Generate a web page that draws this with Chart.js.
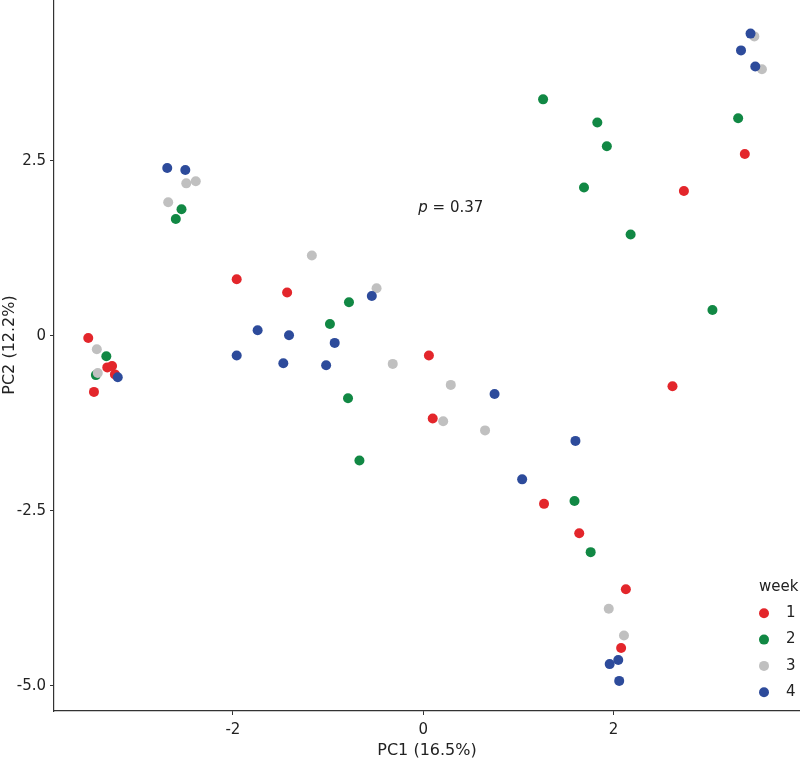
<!DOCTYPE html>
<html>
<head>
<meta charset="utf-8">
<script src="https://cdn.jsdelivr.net/npm/chart.js@4"></script>
<style>
  html, body { margin: 0; padding: 0; background: #fff; }
  #wrap { width: 800px; height: 767px; position: relative; }
</style>
</head>
<body>
<div id="wrap"><canvas id="pca"></canvas></div>
<script>
// PCA scores per week: [PC1, PC2]
const weeks = ['1', '2', '3', '4']
const weekColors = ['#e3262b', '#118844', '#c0c0c0', '#2d4b9b']

const week1 = [
  [-3.52, -0.03], [-3.32, -0.45], [-3.27, -0.43], [-3.24, -0.55], [-3.46, -0.80],
  [-1.96, 0.81], [-1.43, 0.62], [0.06, -0.28], [0.10, -1.18], [1.27, -2.40],
  [1.64, -2.82], [2.13, -3.62], [2.08, -4.46], [2.74, 2.07], [3.38, 2.60], [2.62, -0.72]
]
const week2 = [
  [-3.33, -0.29], [-3.44, -0.56], [-2.54, 1.81], [-2.60, 1.67], [-0.78, 0.48],
  [-0.98, 0.17], [-0.79, -0.89], [-0.67, -1.78], [1.26, 3.38], [1.83, 3.05],
  [1.93, 2.71], [1.69, 2.12], [2.18, 1.45], [3.31, 3.11], [3.04, 0.37],
  [1.59, -2.36], [1.76, -3.09]
]
const week3 = [
  [-3.43, -0.19], [-3.42, -0.53], [-2.68, 1.91], [-2.49, 2.18], [-2.39, 2.21],
  [-1.17, 1.15], [-0.49, 0.68], [-0.32, -0.40], [0.29, -0.70], [0.21, -1.22],
  [0.65, -1.35], [1.95, -3.90], [2.11, -4.28], [3.48, 4.28], [3.56, 3.81]
]
const week4 = [
  [-3.21, -0.59], [-2.69, 2.40], [-2.50, 2.37], [-1.74, 0.08], [-1.41, 0.01],
  [-1.96, -0.28], [-1.47, -0.39], [-1.02, -0.42], [-0.93, -0.10], [-0.54, 0.57],
  [0.75, -0.83], [1.04, -2.05], [1.60, -1.50], [3.44, 4.32], [3.34, 4.08],
  [3.49, 3.85], [1.96, -4.69], [2.05, -4.63], [2.06, -4.93]
]

const xTicks = [-2, 0, 2]
const yTicks = [-5, -2.5, 0, 2.5]
const xRange = [-3.88, 3.96]
const yRange = [-5.36, 4.8]

const pText = { x: 0.29, y: 1.82, value: '0.37' }

const FONT = 'DejaVu Sans'
const INK = '#222'
const AXIS = '#333'

const series = [week1, week2, week3, week4]

// legend drawn inside the panel, bottom right (as in the figure)
const weekLegend = {
  id: 'weekLegend',
  afterDraw(chart) {
    const ctx = chart.ctx
    const x0 = 759
    let y = 587
    ctx.save()
    ctx.fillStyle = INK
    ctx.font = `15px "${FONT}"`
    ctx.textAlign = 'left'
    ctx.textBaseline = 'middle'
    ctx.fillText('week', x0, y)
    chart.data.datasets.forEach((ds, i) => {
      y += 26.3
      ctx.beginPath()
      ctx.arc(x0 + 5, y, 5, 0, Math.PI * 2)
      ctx.fillStyle = ds.backgroundColor
      ctx.fill()
      ctx.fillStyle = INK
      ctx.fillText(ds.label, x0 + 27, y)
    })
    ctx.restore()
  }
}

// "p = 0.37" label with italic p
const pLabel = {
  id: 'pLabel',
  afterDatasetsDraw(chart) {
    const ctx = chart.ctx
    const cx = chart.scales.x.getPixelForValue(pText.x)
    const cy = chart.scales.y.getPixelForValue(pText.y)
    ctx.save()
    ctx.fillStyle = INK
    ctx.textBaseline = 'middle'
    ctx.font = `italic 15px "${FONT}"`
    const pw = ctx.measureText('p').width
    ctx.font = `15px "${FONT}"`
    const rest = ' = ' + pText.value
    const rw = ctx.measureText(rest).width
    const left = cx - (pw + rw) / 2
    ctx.font = `italic 15px "${FONT}"`
    ctx.fillText('p', left, cy)
    ctx.font = `15px "${FONT}"`
    ctx.fillText(rest, left + pw, cy)
    ctx.restore()
  }
}

// y title sits a little above the panel centre in the figure
const yTitle = {
  id: 'yTitle',
  afterDraw(chart) {
    const ctx = chart.ctx
    ctx.save()
    ctx.translate(10, 345)
    ctx.rotate(-Math.PI / 2)
    ctx.fillStyle = INK
    ctx.font = `16px "${FONT}"`
    ctx.textAlign = 'center'
    ctx.textBaseline = 'middle'
    ctx.fillText('PC2 (12.2%)', 0, 0)
    ctx.restore()
  }
}

// panel runs flush to the top and right edges of the figure
function noEdgePadding(s) {
  s.paddingTop = 0
  s.paddingBottom = 0
  s.paddingLeft = 0
  s.paddingRight = 0
}

const chart = new Chart(document.getElementById('pca'), {
  type: 'scatter',
  data: {
    datasets: series.map((pts, i) => ({
      label: weeks[i],
      data: pts.map(p => ({ x: p[0], y: p[1] })),
      backgroundColor: weekColors[i],
      borderWidth: 0,
      pointRadius: 5,
      order: series.length - i
    }))
  },
  options: {
    responsive: true,
    maintainAspectRatio: false,
    animation: false,
    layout: { padding: 0, autoPadding: false },
    plugins: {
      legend: { display: false },
      tooltip: { enabled: false }
    },
    scales: {
      x: {
        type: 'linear',
        min: xRange[0],
        max: xRange[1],
        afterBuildTicks: s => { s.ticks = xTicks.map(v => ({ value: v })) },
        afterFit: s => { s.height = 56; noEdgePadding(s) },
        grid: { drawOnChartArea: false, tickLength: 4, color: AXIS, tickWidth: 1 },
        border: { color: AXIS, width: 1.2 },
        ticks: {
          color: INK,
          font: { family: FONT, size: 15 },
          padding: 6,
          callback: v => String(v)
        },
        title: {
          display: true,
          text: 'PC1 (16.5%)',
          color: INK,
          font: { family: FONT, size: 16 },
          padding: { top: 0, bottom: 7 }
        }
      },
      y: {
        type: 'linear',
        min: yRange[0],
        max: yRange[1],
        afterBuildTicks: s => { s.ticks = yTicks.map(v => ({ value: v })) },
        afterFit: s => { s.width = 54; noEdgePadding(s) },
        grid: { drawOnChartArea: false, tickLength: 4, color: AXIS, tickWidth: 1 },
        border: { color: AXIS, width: 1.2 },
        ticks: {
          color: INK,
          font: { family: FONT, size: 15 },
          padding: 4,
          callback: v => v === 0 ? '0' : v.toFixed(1)
        },
        title: { display: false }
      }
    }
  },
  plugins: [pLabel, weekLegend, yTitle]
})
</script>
</body>
</html>
